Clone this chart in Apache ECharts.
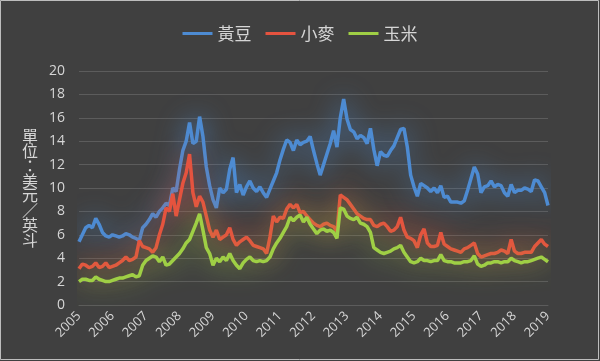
<!DOCTYPE html>
<html><head><meta charset="utf-8">
<script src="https://cdn.jsdelivr.net/npm/echarts@6/dist/echarts.min.js"></script>
<style>html,body{margin:0;padding:0;background:#404040;}#c{width:600px;height:361px;}</style>
</head><body><div id="c"></div>
<script>
const years = ['2005','2006','2007','2008','2009','2010','2011','2012','2013','2014','2015','2016','2017','2018','2019'];
const seriesNames = ['黃豆','小麥','玉米'];
const soybean = [5.4,6.0,6.6,6.8,6.6,7.4,6.9,6.2,5.9,5.8,6.0,5.9,5.8,5.9,6.1,6.0,5.8,5.7,5.5,6.6,
6.9,7.3,7.8,7.5,8.0,8.3,8.7,8.5,10.0,9.7,11.6,13.2,14.0,15.6,13.8,14.0,16.1,14.4,11.8,10.2,
9.0,8.3,10.0,9.6,9.9,11.6,12.6,9.6,10.3,9.4,10.1,10.6,10.0,9.7,10.1,9.6,9.2,9.9,10.6,11.3,
12.4,13.3,14.1,13.9,13.2,14.1,13.7,13.9,14.0,14.4,13.2,12.1,11.1,12.0,12.9,13.8,14.9,13.5,16.0,17.6,
15.9,15.0,14.8,14.2,14.5,14.3,13.8,15.1,13.3,11.9,13.1,12.8,12.7,13.2,13.6,14.3,15.0,15.1,13.5,11.1,
10.1,9.3,10.4,10.2,10.0,9.7,10.0,9.6,10.2,9.2,9.3,8.8,8.8,8.8,8.7,8.9,9.8,10.8,11.8,11.2,
9.6,10.1,10.2,10.6,10.1,10.3,10.2,9.6,9.3,10.3,9.6,9.8,9.8,10.0,9.9,9.7,10.7,10.6,10.1,9.6,8.5];
const wheat = [3.1,3.5,3.4,3.2,3.3,3.6,3.2,3.3,3.6,3.2,3.3,3.4,3.6,3.8,4.1,3.8,3.9,4.1,5.5,5.0,
4.9,4.8,4.5,4.9,6.0,6.9,8.3,8.0,9.5,7.6,9.0,10.4,11.3,12.9,9.6,8.4,9.3,8.8,7.6,6.4,
5.8,6.4,5.6,5.8,6.0,6.6,5.6,5.1,5.4,5.6,5.8,5.5,5.1,5.0,4.9,4.8,4.4,5.8,7.6,7.1,
7.5,7.4,8.2,8.6,8.3,8.6,7.9,8.0,7.6,7.3,7.0,6.8,6.7,6.9,7.0,6.8,6.7,6.3,9.4,9.2,
9.0,8.6,8.2,7.8,7.6,7.4,7.3,7.3,6.8,6.7,6.9,7.0,6.7,6.3,6.4,6.7,7.5,6.4,5.8,5.7,
5.5,4.9,6.0,6.5,5.3,5.0,5.0,5.1,6.2,5.2,5.0,4.8,4.7,4.6,4.5,4.8,4.9,5.1,5.3,4.4,
4.1,4.2,4.3,4.4,4.4,4.5,4.7,4.6,4.4,5.6,4.6,4.4,4.4,4.5,4.5,4.5,5.0,5.3,5.6,5.2,5.0];
const corn = [2.0,2.2,2.2,2.1,2.1,2.4,2.2,2.1,2.0,2.0,2.1,2.2,2.3,2.3,2.4,2.5,2.6,2.4,2.5,3.4,
3.8,4.0,4.2,4.1,3.7,4.1,3.4,3.5,3.8,4.1,4.4,4.8,5.3,5.6,6.3,7.0,7.8,6.4,4.9,4.4,
3.4,4.0,3.7,4.1,3.8,4.4,3.8,3.4,3.1,3.6,3.9,4.1,3.8,3.7,3.8,3.7,3.8,4.1,4.8,5.3,
5.7,6.2,6.7,7.5,7.2,7.5,7.7,7.1,7.5,6.9,6.5,6.1,6.4,6.5,6.3,6.4,6.2,5.7,8.3,8.2,
7.6,7.4,7.3,7.5,7.0,6.9,6.7,6.2,4.9,4.7,4.5,4.4,4.5,4.6,4.8,4.9,5.1,4.5,4.1,3.7,
3.6,3.7,4.0,3.8,3.8,3.7,3.8,3.8,4.3,3.8,3.7,3.7,3.6,3.6,3.6,3.7,3.7,3.8,4.2,3.5,
3.3,3.4,3.6,3.6,3.7,3.7,3.6,3.7,3.7,4.0,3.8,3.7,3.6,3.7,3.7,3.8,3.9,4.0,4.1,3.9,3.7];
const colors = ['#4d8bd2','#e5533f','#9fcf45'];
const glow = ['rgba(77,139,210,0.9)','rgba(229,83,63,0.9)','rgba(159,207,69,0.9)'];

const categories = [];
for (let i = 0; i < soybean.length; i++) categories.push(i % 10 === 0 ? years[i / 10] : '');

const chart = echarts.init(document.getElementById('c'));
const mk = (name, data, k) => ({
  name, type: 'line', data, symbol: 'none', smooth: false,
  lineStyle: { color: colors[k], width: 3.5, shadowBlur: 26, shadowColor: glow[k] },
  itemStyle: { color: colors[k] }
});
chart.setOption({
  backgroundColor: '#404040',
  animation: false,
  legend: {
    top: 20, left: 'center', itemWidth: 30, itemHeight: 3, itemGap: 14,
    icon: 'rect',
    textStyle: { color: '#d6d6d6', fontSize: 17, fontFamily: 'Noto Sans CJK TC' },
    data: seriesNames
  },
  grid: { left: 79, right: 52, top: 71, bottom: 56 },
  xAxis: {
    type: 'category', data: categories, boundaryGap: false,
    axisLine: { lineStyle: { color: '#5c5c5c' } },
    axisTick: { show: false },
    axisLabel: { interval: (i) => i % 10 === 0, rotate: 45, color: '#d6d6d6', fontSize: 13, fontFamily: 'Open Sans', margin: 9 },
    splitLine: { show: false }
  },
  yAxis: {
    type: 'value', min: 0, max: 20, interval: 2,
    name: '單位：美元／英斗'.split('').join('\n'),
    nameLocation: 'middle', nameGap: 49, nameRotate: 0,
    nameTextStyle: { color: '#d6d6d6', fontSize: 16, lineHeight: 14.8, fontFamily: 'Noto Sans CJK TC', align: 'center', verticalAlign: 'middle' },
    axisLine: { show: false }, axisTick: { show: false },
    axisLabel: { color: '#d6d6d6', fontSize: 14, fontFamily: 'Open Sans', margin: 14 },
    splitLine: { lineStyle: { color: '#5c5c5c', width: 1 } }
  },
  series: [mk(seriesNames[0], soybean, 0), mk(seriesNames[1], wheat, 1), mk(seriesNames[2], corn, 2)],
  graphic: [
    { type: 'rect', shape: { x: 0.5, y: 0.5, width: 598, height: 359 }, style: { fill: null, stroke: '#bdbdbd', lineWidth: 1 }, silent: true }
  ]
});
</script></body></html>
